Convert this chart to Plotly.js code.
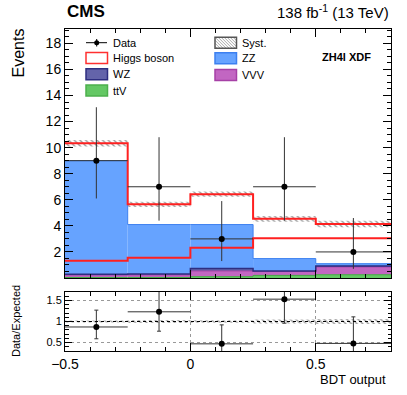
<!DOCTYPE html>
<html>
<head>
<meta charset="utf-8">
<script src="https://cdn.plot.ly/plotly-3.0.1.min.js"></script>
<style>html,body{margin:0;padding:0;background:#fff}</style>
</head>
<body>
<div id="chart" style="width:407px;height:395px"></div>
<script>
let binEdges = [-0.5, -0.25, 0, 0.25, 0.5, 0.8]
let ttV = [0.04, 0.04, 0.10, 0.20, 0.25]
let vvv = [0.18, 0.20, 0.44, 0.30, 0.60]
let wz = [0.06, 0.06, 0.18, 0.03, 0.07]
let zz = [8.72, 3.80, 3.38, 0.96, 0.18]
let higgs = [1.33, 1.55, 2.33, 3.05, 3.04]
let syst = [0.25, 0.20, 0.20, 0.22, 0.25]
let dataCounts = [9, 7, 3, 7, 2]
let dataErrUp = [4.1, 3.8, 2.9, 3.8, 2.6]
let dataErrDown = [2.9, 2.6, 1.7, 2.6, 1.3]
let ratio = [0.87, 1.23, 0.47, 1.53, 0.48]
let ratioErrUp = [0.40, 0.67, 0.45, 0.83, 0.63]
let ratioErrDown = [0.28, 0.46, 0.26, 0.57, 0.31]
let ratioSyst = [0.025, 0.035, 0.03, 0.05, 0.06]

let centers = [], widths = [], halfW = []
for (let i = 0; i < binEdges.length - 1; i++) {
  centers.push((binEdges[i] + binEdges[i + 1]) / 2)
  widths.push(binEdges[i + 1] - binEdges[i])
  halfW.push((binEdges[i + 1] - binEdges[i]) / 2)
}

// running sums for the stack (bottom to top)
let addArr = function(a, b) { return a.map((v, i) => v + b[i]) }
let base0 = ttV.map(v => 0)
let base1 = addArr(base0, ttV)
let base2 = addArr(base1, vvv)
let base3 = addArr(base2, wz)
let base4 = addArr(base3, zz)
let total = addArr(base4, higgs)

let stepY = function(vals) { return vals.concat([vals[vals.length - 1]]) }

let stackBar = function(vals, base, color) {
  return {type: 'bar', x: centers, y: vals, base: base, width: widths,
    marker: {color: color, line: {width: 0}}, hoverinfo: 'skip'}
}
let stepLine = function(vals, color, w, xa, ya) {
  return {type: 'scatter', mode: 'lines', x: binEdges, y: stepY(vals),
    line: {shape: 'hv', color: color, width: w}, xaxis: xa || 'x', yaxis: ya || 'y', hoverinfo: 'skip'}
}

let traces = [
  stackBar(ttV, base0, '#64c864'),
  stackBar(vvv, base1, '#c266c2'),
  stackBar(wz, base2, '#6464aa'),
  stackBar(zz, base3, '#66a3ff'),
  {type: 'bar', x: centers, y: syst.map(v => 2 * v), base: total.map((v, i) => v - syst[i]), width: widths,
    marker: {color: 'rgba(0,0,0,0)', line: {width: 0},
      pattern: {shape: '\\', fgcolor: '#999', bgcolor: 'rgba(0,0,0,0)', size: 4, solidity: 0.35}}, hoverinfo: 'skip'},
  {type: 'bar', x: centers, y: ratioSyst.map(v => 2 * v), base: ratioSyst.map(v => 1 - v), width: widths,
    xaxis: 'x2', yaxis: 'y2',
    marker: {color: 'rgba(0,0,0,0)', line: {width: 0},
      pattern: {shape: '\\', fgcolor: '#999', bgcolor: 'rgba(0,0,0,0)', size: 4, solidity: 0.35}}, hoverinfo: 'skip'},
  stepLine(base1, '#3fa83f', 1),
  stepLine(base2, '#a640a6', 1),
  stepLine(base3, '#2e2e80', 1.5),
  stepLine(base4, '#3d80f0', 1),
  stepLine(higgs, '#ff2020', 2),
  stepLine(total, '#ff2020', 2),
  {type: 'scatter', mode: 'markers', x: centers, y: dataCounts,
    marker: {color: 'black', size: 6},
    error_x: {type: 'data', array: halfW, color: '#333', thickness: 1, width: 0},
    error_y: {type: 'data', symmetric: false, array: dataErrUp, arrayminus: dataErrDown, color: '#333', thickness: 1, width: 0},
    hoverinfo: 'skip'},
  {type: 'scatter', mode: 'markers', x: centers, y: ratio, xaxis: 'x2', yaxis: 'y2',
    marker: {color: 'black', size: 6},
    error_x: {type: 'data', array: halfW, color: '#333', thickness: 1, width: 0},
    error_y: {type: 'data', symmetric: false, array: ratioErrUp, arrayminus: ratioErrDown, color: '#333', thickness: 1, width: 2},
    hoverinfo: 'skip'}
]

let px = function(x) { return (x - 65) / 326 }
let py = function(y) { return (351 - y) / 322 }

let axisCommon = {
  showline: true, linecolor: 'black', linewidth: 1, mirror: 'allticks',
  ticks: 'inside', tickcolor: 'black', tickwidth: 1, zeroline: false, showgrid: false
}

let shapes = []
let annotations = []

let legendBox = function(x, y, fill, border) {
  shapes.push({type: 'rect', xref: 'paper', yref: 'paper', x0: px(x), x1: px(x + 21.5), y0: py(y + 5.5), y1: py(y - 5.5),
    fillcolor: fill, line: {color: border, width: 1.5}})
}
let legendText = function(x, y, txt) {
  annotations.push({xref: 'paper', yref: 'paper', x: px(x), y: py(y), xanchor: 'left', yanchor: 'middle',
    text: txt, showarrow: false, font: {size: 11}})
}

// data legend entry
shapes.push({type: 'line', xref: 'paper', yref: 'paper', x0: px(86), x1: px(107), y0: py(42.7), y1: py(42.7), line: {color: 'black', width: 1}})
shapes.push({type: 'line', xref: 'paper', yref: 'paper', x0: px(96.7), x1: px(96.7), y0: py(39), y1: py(46.5), line: {color: 'black', width: 1}})
shapes.push({type: 'circle', xref: 'paper', yref: 'paper', x0: px(94.2), x1: px(99.2), y0: py(40.2), y1: py(45.2), fillcolor: 'black', line: {width: 0}})
legendText(111, 42.7, 'Data')
legendBox(86, 58, 'white', '#ff3030')
legendText(111, 58, 'Higgs boson')
legendBox(86, 74.3, '#6464aa', '#2e2e80')
legendText(111, 74.3, 'WZ')
legendBox(86, 90.5, '#64c864', '#4cb04c')
legendText(111, 90.5, 'ttV')

// syst legend: hatched box
let sx0 = 215, sx1 = 236.5, sy0 = 37.2, sy1 = 48.2
let hp = ''
for (let k = -12; k < 22; k += 3) {
  let a = sx0 + k, h = sy1 - sy0
  let xs = a, ys = sy0, xe = a + h, ye = sy1
  if (xs < sx0) { ys = sy0 + (sx0 - a); xs = sx0 }
  if (xe > sx1) { ye = sy0 + (sx1 - a); xe = sx1 }
  if (xe <= xs) continue
  hp += 'M' + px(xs) + ',' + py(ys) + 'L' + px(xe) + ',' + py(ye)
}
shapes.push({type: 'rect', xref: 'paper', yref: 'paper', x0: px(sx0), x1: px(sx1), y0: py(sy1), y1: py(sy0), fillcolor: 'white', line: {width: 0}})
shapes.push({type: 'path', xref: 'paper', yref: 'paper', path: hp, line: {color: '#aaa', width: 1}})
shapes.push({type: 'rect', xref: 'paper', yref: 'paper', x0: px(sx0), x1: px(sx1), y0: py(sy1), y1: py(sy0), line: {color: '#555', width: 1.5}})
legendText(240, 42.7, 'Syst.')
legendBox(215, 58.3, '#66a3ff', '#3d80f0')
legendText(240, 58.3, 'ZZ')
legendBox(215, 75, '#c266c2', '#a640a6')
legendText(240, 75, 'VVV')

// unity line in ratio panel
shapes.push({type: 'line', xref: 'x2', yref: 'y2', x0: -0.5, x1: 0.8, y0: 1, y1: 1, line: {color: 'black', width: 1, dash: 'dot'}})

annotations.push({xref: 'paper', yref: 'paper', x: px(65), y: py(11), xanchor: 'left', yanchor: 'middle',
  text: '<b>CMS</b>', showarrow: false, font: {size: 17}})
annotations.push({xref: 'paper', yref: 'paper', x: px(391), y: py(11), xanchor: 'right', yanchor: 'middle',
  text: '138 fb<sup>-1</sup> (13 TeV)', showarrow: false, font: {size: 15}})
annotations.push({xref: 'paper', yref: 'paper', x: px(320), y: py(57), xanchor: 'left', yanchor: 'middle',
  text: '<b>ZH4l XDF</b>', showarrow: false, font: {size: 11}})
annotations.push({xref: 'paper', yref: 'paper', x: px(18), y: py(27), xanchor: 'center', yanchor: 'top',
  text: 'Events', textangle: -90, showarrow: false, font: {size: 16}})
annotations.push({xref: 'paper', yref: 'paper', x: px(16), y: py(321), xanchor: 'center', yanchor: 'middle',
  text: 'Data/Expected', textangle: -90, showarrow: false, font: {size: 11}})
annotations.push({xref: 'paper', yref: 'paper', x: px(388), y: py(380), xanchor: 'right', yanchor: 'middle',
  text: 'BDT output', showarrow: false, font: {size: 13}})

let yTicks = [0, 2, 4, 6, 8, 10, 12, 14, 16, 18]

let layout = {
  width: 407, height: 395,
  margin: {l: 65, r: 16, t: 29, b: 44},
  paper_bgcolor: 'white', plot_bgcolor: 'white',
  font: {family: 'Liberation Sans, Arial, sans-serif', color: '#000'},
  showlegend: false,
  barmode: 'overlay',
  xaxis: Object.assign({}, axisCommon, {
    domain: [0, 1], anchor: 'y', range: [-0.5, 0.8], showticklabels: false,
    tickmode: 'linear', tick0: -0.5, dtick: 0.5, ticklen: 8,
    minor: {ticks: 'inside', ticklen: 4, tickcolor: 'black', tickmode: 'linear', tick0: -0.5, dtick: 0.1}
  }),
  yaxis: Object.assign({}, axisCommon, {
    domain: [0.2267, 1], anchor: 'x', range: [0, 19.1],
    tickmode: 'array', tickvals: yTicks, ticktext: yTicks.map(v => v === 0 ? '' : String(v)),
    ticklen: 8, tickfont: {size: 14},
    minor: {ticks: 'inside', ticklen: 4, tickcolor: 'black', tickmode: 'linear', tick0: 0, dtick: 0.5}
  }),
  xaxis2: Object.assign({}, axisCommon, {
    domain: [0, 1], anchor: 'y2', range: [-0.5, 0.8], matches: 'x',
    tickmode: 'array', tickvals: [-0.5, 0, 0.5], ticktext: ['\u22120.5', '0', '0.5'],
    ticklen: 8, tickfont: {size: 14},
    showgrid: true, gridcolor: '#999', griddash: 'dot', gridwidth: 1,
    minor: {ticks: 'inside', ticklen: 4, tickcolor: 'black', tickmode: 'linear', tick0: -0.5, dtick: 0.1}
  }),
  yaxis2: Object.assign({}, axisCommon, {
    domain: [0, 0.1832], anchor: 'x2', range: [0.3, 1.7],
    tickmode: 'array', tickvals: [0.5, 1, 1.5], ticktext: ['0.5', '1', '1.5'],
    ticklen: 7, tickfont: {size: 11},
    showgrid: true, gridcolor: '#999', griddash: 'dot', gridwidth: 1,
    minor: {ticks: 'inside', ticklen: 3.5, tickcolor: 'black', tickmode: 'linear', tick0: 0, dtick: 0.1}
  }),
  shapes: shapes,
  annotations: annotations
}

Plotly.newPlot('chart', traces, layout, {staticPlot: true, displayModeBar: false})
</script>
</body>
</html>
